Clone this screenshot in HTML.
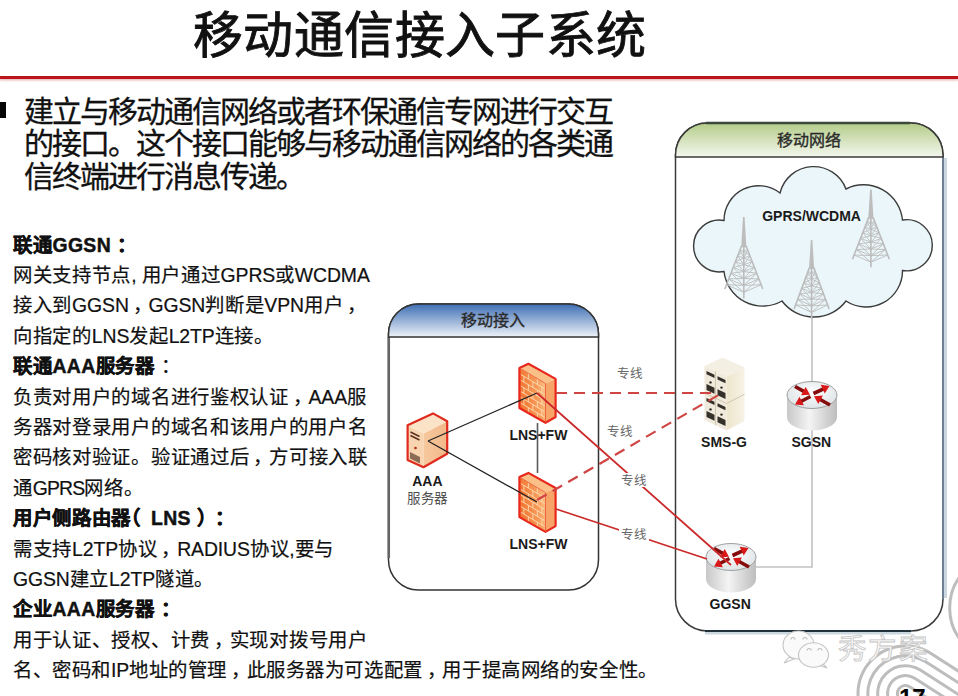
<!DOCTYPE html>
<html lang="zh-CN">
<head>
<meta charset="utf-8">
<style>
html,body{margin:0;padding:0;background:#fff;}
body{width:958px;height:696px;position:relative;overflow:hidden;font-family:"Liberation Sans",sans-serif;color:#111;}
.a{position:absolute;white-space:nowrap;line-height:1;}
#title{left:193px;top:11px;font-size:50px;letter-spacing:0.4px;color:#111;-webkit-text-stroke:0.9px #111;}
#rule{position:absolute;left:0;top:75.6px;width:958px;height:3px;background:#bb1419;box-shadow:0 1.5px 2px rgba(200,80,80,.4);}
#bul{position:absolute;left:-10px;top:102px;width:16px;height:15.6px;background:#050505;}
.b{font-size:30px;letter-spacing:-2px;left:24px;color:#111;-webkit-text-stroke:0.3px #111;}
.t{font-size:19.4px;letter-spacing:0.7px;left:13px;color:#111;-webkit-text-stroke:0.2px #111;}
.t b{font-weight:bold;-webkit-text-stroke:0.45px #111;}
.l{letter-spacing:-0.1px;}
.t b .l{letter-spacing:0.4px;}
.p{position:relative;}
svg{position:absolute;left:0;top:0;}
</style>
</head>
<body>
<div class="a" id="title">移动通信接入子系统</div>
<div id="rule"></div>
<div id="bul"></div>
<div class="a b" style="top:97px">建立与移动通信网络或者环保通信专网进行交互</div>
<div class="a b" style="top:129px">的接口。这个接口能够与移动通信网络的各类通</div>
<div class="a b" style="top:162px">信终端进行消息传递。</div>

<div class="a t" style="top:235.6px"><b>联通<span class="l">GGSN</span><span class="p" style="left:6.0px">：</span></b></div>
<div class="a t" style="top:266.0px">网关支持节点<span class="l">, </span>用户通过<span class="l">GPRS</span>或<span class="l">WCDMA</span></div>
<div class="a t" style="top:296.4px">接入到<span class="l">GGSN</span><span class="p" style="left:4px">，</span><span class="l">GGSN</span>判断是<span class="l">VPN</span>用户<span class="p" style="left:4px">，</span></div>
<div class="a t" style="top:326.7px">向指定的<span class="l">LNS</span>发起<span class="l">L2TP</span>连接。</div>
<div class="a t" style="top:357.1px"><b>联通<span class="l">AAA</span>服务器</b><span class="p" style="left:6.0px">：</span></div>
<div class="a t" style="top:387.5px">负责对用户的域名进行鉴权认证<span class="p" style="left:4px">，</span><span class="l">AAA</span>服</div>
<div class="a t" style="top:417.9px">务器对登录用户的域名和该用户的用户名</div>
<div class="a t" style="top:448.2px">密码核对验证。验证通过后<span class="p" style="left:4px">，</span>方可接入联</div>
<div class="a t" style="top:478.6px">通<span class="l" style="letter-spacing:-0.8px">GPRS</span>网络。</div>
<div class="a t" style="top:509.0px"><b>用户侧路由器<span class="p" style="left:-10.5px">（</span><span class="l">LNS</span><span class="p" style="left:6.5px">）</span><span class="p" style="left:14.5px">：</span></b></div>
<div class="a t" style="top:539.7px">需支持<span class="l">L2TP</span>协议<span class="p" style="left:4px">，</span><span class="l">RADIUS</span>协议<span class="l">,</span>要与</div>
<div class="a t" style="top:570.1px"><span class="l">GGSN</span>建立<span class="l">L2TP</span>隧道。</div>
<div class="a t" style="top:600.4px"><b>企业<span class="l">AAA</span>服务器<span class="p" style="left:6.0px">：</span></b></div>
<div class="a t" style="top:630.8px">用于认证、授权、计费<span class="p" style="left:4px">，</span>实现对拨号用户</div>
<div class="a t" style="top:661.2px;letter-spacing:0.58px">名、密码和<span class="l">IP</span>地址的管理<span class="p" style="left:4px">，</span>此服务器为可选配置<span class="p" style="left:4px">，</span>用于提高网络的安全性。</div>

<svg width="958" height="696" viewBox="0 0 958 696">
<defs>
<linearGradient id="gG" x1="0" y1="0" x2="0" y2="1"><stop offset="0" stop-color="#b3cc88"/><stop offset="1" stop-color="#f4f7ee"/></linearGradient>
<linearGradient id="gB" x1="0" y1="0" x2="0" y2="1"><stop offset="0" stop-color="#3e6fb4"/><stop offset="1" stop-color="#eef2f8"/></linearGradient>
<linearGradient id="fwF" x1="0" y1="0.2" x2="1" y2="0"><stop offset="0" stop-color="#f27632"/><stop offset="0.6" stop-color="#f79a58"/><stop offset="1" stop-color="#fbc88e"/></linearGradient>
<linearGradient id="aaS" x1="0" y1="0" x2="1" y2="0"><stop offset="0" stop-color="#f7c89e"/><stop offset="1" stop-color="#f2b888"/></linearGradient>
<linearGradient id="smS" x1="0" y1="0" x2="1" y2="0"><stop offset="0" stop-color="#ede6cc"/><stop offset="1" stop-color="#f6f2e6"/></linearGradient>
<linearGradient id="rtS" x1="0" y1="0" x2="1" y2="0"><stop offset="0" stop-color="#c8c8c8"/><stop offset="0.45" stop-color="#f4f4f4"/><stop offset="1" stop-color="#bdbdbd"/></linearGradient>
<radialGradient id="rtT" cx="0.5" cy="0.4" r="0.6"><stop offset="0" stop-color="#ffffff"/><stop offset="1" stop-color="#dde3e6"/></radialGradient>
</defs>
<!-- mobile network box -->
<path d="M945.5,158 V598 M911,633 H705" fill="none" stroke="#cbd7df" stroke-width="3"/>
<path d="M707.5,123 H911 A32,32 0 0 1 943,155 V599 A32,32 0 0 1 911,631 H707.5 A32,32 0 0 1 675.5,599 V155 A32,32 0 0 1 707.5,123 Z" fill="#fff" stroke="#3a3a3a" stroke-width="1.5"/>
<path d="M943,157 V599" fill="none" stroke="#6f8094" stroke-width="2"/><path d="M911,631 H705" fill="none" stroke="#22323c" stroke-width="1.8"/>
<path d="M707.5,123 H911 A32,32 0 0 1 943,155 V157 H675.5 V155 A32,32 0 0 1 707.5,123 Z" fill="url(#gG)" stroke="#3a3a3a" stroke-width="1.5"/>
<path d="M706,123 H910" stroke="#3a4a3a" stroke-width="2.5"/>
<!-- mobile access box -->
<path d="M418.5,304 H568.5 A30,30 0 0 1 598.5,334 V560 A30,30 0 0 1 568.5,590 H418.5 A30,30 0 0 1 388.5,560 V334 A30,30 0 0 1 418.5,304 Z" fill="#fff" stroke="#333" stroke-width="1.5"/>
<path d="M388.8,337 V558" stroke="#666" stroke-width="2.5"/>
<path d="M418.5,304 H568.5 A30,30 0 0 1 598.5,334 V337 H388.5 V334 A30,30 0 0 1 418.5,304 Z" fill="url(#gB)" stroke="#333" stroke-width="1.5"/>
<!-- cloud -->
<path d="M724.0,220.5 A34.7,34.7 0 0 1 780.0,193.0 A34.6,34.6 0 0 1 846.0,189.0 A39.1,39.1 0 0 1 902.5,220.0 A25.6,25.6 0 1 1 902.5,270.5 A36.4,36.4 0 0 1 846.0,301.0 A40.0,40.0 0 0 1 782.0,301.0 A39.0,39.0 0 0 1 724.0,271.5 A25.9,25.9 0 1 1 724.0,220.5 Z" fill="#eaf6f9" stroke="#3c3c3c" stroke-width="1.4"/>
<g stroke="#bcbcbc" fill="none"><path d="M743.0,217.0 L744.6,217.0 L746.4,247.2 L741.2,247.2 Z" fill="#bdbdbd" stroke="none"/><path d="M741.6,245.8 L724.8,289.0 M746.0,245.8 L762.8,289.0 M743.8,238.6 L743.8,298.4" stroke-width="1.6"/><path d="M739.9,250.1 L743.8,251.0 L747.7,250.1 M737.7,255.9 L743.8,257.9 L749.9,255.9 M735.4,261.6 L743.8,264.8 L752.2,261.6 M733.2,267.4 L743.8,271.6 L754.4,267.4 M731.0,273.2 L743.8,278.5 L756.6,273.2 M728.7,278.9 L743.8,285.4 L758.9,278.9 M726.5,284.7 L743.8,292.3 L761.1,284.7 M739.9,250.1 L743.8,257.9 M743.8,251.0 L737.7,255.9 M747.7,250.1 L743.8,257.9 M743.8,251.0 L749.9,255.9 M737.7,255.9 L743.8,264.8 M743.8,257.9 L735.4,261.6 M749.9,255.9 L743.8,264.8 M743.8,257.9 L752.2,261.6 M735.4,261.6 L743.8,271.6 M743.8,264.8 L733.2,267.4 M752.2,261.6 L743.8,271.6 M743.8,264.8 L754.4,267.4 M733.2,267.4 L743.8,278.5 M743.8,271.6 L731.0,273.2 M754.4,267.4 L743.8,278.5 M743.8,271.6 L756.6,273.2 M731.0,273.2 L743.8,285.4 M743.8,278.5 L728.7,278.9 M756.6,273.2 L743.8,285.4 M743.8,278.5 L758.9,278.9 M728.7,278.9 L743.8,292.3 M743.8,285.4 L726.5,284.7 M758.9,278.9 L743.8,292.3 M743.8,285.4 L761.1,284.7" stroke-width="0.9"/></g>
<g stroke="#bcbcbc" fill="none"><path d="M810.8,240.0 L812.4,240.0 L814.2,269.0 L809.0,269.0 Z" fill="#bdbdbd" stroke="none"/><path d="M809.4,267.6 L794.1,309.0 M813.8,267.6 L829.1,309.0 M811.6,260.7 L811.6,318.7" stroke-width="1.6"/><path d="M807.9,271.7 L811.6,272.6 L815.3,271.7 M805.8,277.3 L811.6,279.2 L817.4,277.3 M803.8,282.8 L811.6,285.9 L819.4,282.8 M801.8,288.3 L811.6,292.6 L821.5,288.3 M799.7,293.8 L811.6,299.2 L823.5,293.8 M797.7,299.3 L811.6,305.9 L825.5,299.3 M795.6,304.9 L811.6,312.5 L827.6,304.9 M807.9,271.7 L811.6,279.2 M811.6,272.6 L805.8,277.3 M815.3,271.7 L811.6,279.2 M811.6,272.6 L817.4,277.3 M805.8,277.3 L811.6,285.9 M811.6,279.2 L803.8,282.8 M817.4,277.3 L811.6,285.9 M811.6,279.2 L819.4,282.8 M803.8,282.8 L811.6,292.6 M811.6,285.9 L801.8,288.3 M819.4,282.8 L811.6,292.6 M811.6,285.9 L821.5,288.3 M801.8,288.3 L811.6,299.2 M811.6,292.6 L799.7,293.8 M821.5,288.3 L811.6,299.2 M811.6,292.6 L823.5,293.8 M799.7,293.8 L811.6,305.9 M811.6,299.2 L797.7,299.3 M823.5,293.8 L811.6,305.9 M811.6,299.2 L825.5,299.3 M797.7,299.3 L811.6,312.5 M811.6,305.9 L795.6,304.9 M825.5,299.3 L811.6,312.5 M811.6,305.9 L827.6,304.9" stroke-width="0.9"/></g>
<g stroke="#bcbcbc" fill="none"><path d="M870.1,189.6 L871.7,189.6 L873.5,218.8 L868.3,218.8 Z" fill="#bdbdbd" stroke="none"/><path d="M868.7,217.4 L852.5,259.2 M873.1,217.4 L889.3,259.2 M870.9,210.5 L870.9,267.3" stroke-width="1.6"/><path d="M867.1,221.6 L870.9,222.4 L874.7,221.6 M864.9,227.2 L870.9,229.1 L876.9,227.2 M862.8,232.8 L870.9,235.7 L879.0,232.8 M860.6,238.3 L870.9,242.3 L881.2,238.3 M858.4,243.9 L870.9,249.0 L883.4,243.9 M856.3,249.5 L870.9,255.6 L885.5,249.5 M854.1,255.0 L870.9,262.2 L887.7,255.0 M867.1,221.6 L870.9,229.1 M870.9,222.4 L864.9,227.2 M874.7,221.6 L870.9,229.1 M870.9,222.4 L876.9,227.2 M864.9,227.2 L870.9,235.7 M870.9,229.1 L862.8,232.8 M876.9,227.2 L870.9,235.7 M870.9,229.1 L879.0,232.8 M862.8,232.8 L870.9,242.3 M870.9,235.7 L860.6,238.3 M879.0,232.8 L870.9,242.3 M870.9,235.7 L881.2,238.3 M860.6,238.3 L870.9,249.0 M870.9,242.3 L858.4,243.9 M881.2,238.3 L870.9,249.0 M870.9,242.3 L883.4,243.9 M858.4,243.9 L870.9,255.6 M870.9,249.0 L856.3,249.5 M883.4,243.9 L870.9,255.6 M870.9,249.0 L885.5,249.5 M856.3,249.5 L870.9,262.2 M870.9,255.6 L854.1,255.0 M885.5,249.5 L870.9,262.2 M870.9,255.6 L887.7,255.0" stroke-width="0.9"/></g>
<!-- gray lines -->
<path d="M812,318 V567 H756" fill="none" stroke="#c2c2c2" stroke-width="1.6"/>
<!-- icons -->
<path d="M407.6,425.3 L423.5,433.5 L423.5,467.2 L407.6,460.1 Z" fill="#f8d4b0"/><path d="M423.5,433.5 L447.2,421.3 L447.2,453.8 L423.5,467.2 Z" fill="url(#aaS)"/><path d="M407.6,425.3 L433.0,413.4 L447.2,421.3 L423.5,433.5 Z" fill="#fbe3c8"/><path d="M410.5,432 L419.5,436.5 M410.5,435.5 L419.5,440" stroke="#5a3020" stroke-width="1.5"/><circle cx="415.5" cy="448" r="1.3" fill="#b03010"/><path d="M410,452 L420,457 L420,463.5 L410,458.5 Z" fill="#6a4a3a" opacity="0.75"/><path d="M407.6,425.3 L433.0,413.4 L447.2,421.3 L447.2,453.8 L423.5,467.2 L407.6,460.1 Z" fill="none" stroke="#e02a1e" stroke-width="2.2" stroke-linejoin="round"/><path d="M519.4,367.9 L545.5,383.5 L545.5,422.8 L519.4,408.0 Z" fill="url(#fwF)"/><path d="M545.5,383.5 L555.6,378.9 L555.6,417.0 L545.5,422.8 Z" fill="#f6a468"/><path d="M519.4,367.9 L528.4,363.8 L555.6,378.9 L545.5,383.5 Z" fill="#fbbf88"/><path d="M520.9,374.5 L544.5,388.6 M520.9,380.3 L544.5,394.4 M520.9,386.0 L544.5,400.1 M520.9,391.7 L544.5,405.8 M520.9,397.4 L544.5,411.5 M520.9,403.2 L544.5,417.3 M528.4,373.3 L528.4,379.0 M537.4,378.7 L537.4,384.4 M523.9,376.3 L523.9,382.0 M532.9,381.7 L532.9,387.4 M541.9,387.1 L541.9,392.8 M528.4,384.7 L528.4,390.5 M537.4,390.1 L537.4,395.8 M523.9,387.8 L523.9,393.5 M532.9,393.2 L532.9,398.9 M541.9,398.5 L541.9,404.3 M528.4,396.2 L528.4,401.9 M537.4,401.6 L537.4,407.3 M523.9,399.2 L523.9,405.0 M532.9,404.6 L532.9,410.3 M541.9,410.0 L541.9,415.7 M528.4,407.7 L528.4,413.4 M537.4,413.0 L537.4,418.8" stroke="#fde2bc" stroke-width="1" fill="none" opacity="0.85"/><path d="M519.4,367.9 L528.4,363.8 L555.6,378.9 L555.6,417.0 L545.5,422.8 L519.4,408.0 Z" fill="none" stroke="#e8281c" stroke-width="2.2" stroke-linejoin="round"/><path d="M519.4,367.9 L545.5,383.5 L545.5,422.8" fill="none" stroke="#e8502c" stroke-width="0.8"/><path d="M519.4,477.0 L545.5,492.6 L545.5,531.9 L519.4,517.1 Z" fill="url(#fwF)"/><path d="M545.5,492.6 L555.6,488.0 L555.6,526.1 L545.5,531.9 Z" fill="#f6a468"/><path d="M519.4,477.0 L528.4,472.9 L555.6,488.0 L545.5,492.6 Z" fill="#fbbf88"/><path d="M520.9,483.6 L544.5,497.7 M520.9,489.4 L544.5,503.5 M520.9,495.1 L544.5,509.2 M520.9,500.8 L544.5,514.9 M520.9,506.5 L544.5,520.6 M520.9,512.3 L544.5,526.4 M528.4,482.4 L528.4,488.1 M537.4,487.8 L537.4,493.5 M523.9,485.4 L523.9,491.1 M532.9,490.8 L532.9,496.5 M541.9,496.2 L541.9,501.9 M528.4,493.8 L528.4,499.6 M537.4,499.2 L537.4,504.9 M523.9,496.9 L523.9,502.6 M532.9,502.3 L532.9,508.0 M541.9,507.6 L541.9,513.4 M528.4,505.3 L528.4,511.0 M537.4,510.7 L537.4,516.4 M523.9,508.3 L523.9,514.1 M532.9,513.7 L532.9,519.4 M541.9,519.1 L541.9,524.8 M528.4,516.8 L528.4,522.5 M537.4,522.1 L537.4,527.9" stroke="#fde2bc" stroke-width="1" fill="none" opacity="0.85"/><path d="M519.4,477.0 L528.4,472.9 L555.6,488.0 L555.6,526.1 L545.5,531.9 L519.4,517.1 Z" fill="none" stroke="#e8281c" stroke-width="2.2" stroke-linejoin="round"/><path d="M519.4,477.0 L545.5,492.6 L545.5,531.9" fill="none" stroke="#e8502c" stroke-width="0.8"/><path d="M704.5,366 L722.5,357.5 L744.5,367.5 L726.5,376.5 Z" fill="#f3efe3"/><path d="M704.5,366 L726.5,376.5 L726.5,430.5 L704.5,420 Z" fill="#efeadb"/><path d="M726.5,376.5 L744.5,367.5 L744.5,421 L726.5,430.5 Z" fill="url(#smS)"/><path d="M715.5,371.2 L715.5,425.2 M704.5,393 L726.5,403.5 L744.5,394.2" stroke="#cfc8b0" stroke-width="1" fill="none"/><path d="M706.5,371.0 l8.0,3.8 l0,3.2 l-8.0,-3.8 Z M706.5,384.0 l8.0,3.8 l0,6.0 l-8.0,-3.8 Z M706.5,398.0 l8.0,3.8 l0,3.2 l-8.0,-3.8 Z M706.5,411.0 l8.0,3.8 l0,6.0 l-8.0,-3.8 Z M717.5,376.2 l8.0,3.8 l0,3.2 l-8.0,-3.8 Z M717.5,389.2 l8.0,3.8 l0,6.0 l-8.0,-3.8 Z M717.5,403.2 l8.0,3.8 l0,3.2 l-8.0,-3.8 Z M717.5,416.2 l8.0,3.8 l0,6.0 l-8.0,-3.8 Z" fill="#34302a"/><circle cx="710.5" cy="382.4" r="1.2" fill="#2e2a24"/><circle cx="710.5" cy="409.4" r="1.2" fill="#2e2a24"/><circle cx="721.5" cy="387.6" r="1.2" fill="#2e2a24"/><circle cx="721.5" cy="414.6" r="1.2" fill="#2e2a24"/><path d="M787.0,395.0 A25.0,13.5 0 0 0 837.0,395.0 V417.0 A25.0,13.5 0 0 1 787.0,417.0 Z" fill="url(#rtS)"/><ellipse cx="812.0" cy="395.0" rx="25.0" ry="13.5" fill="url(#rtT)" stroke="#8a8a8a" stroke-width="0.8"/><g class="arr"><line x1="795.0" y1="386.5" x2="804.3" y2="391.6" stroke="#850c0c" stroke-width="3.6"/><path d="M810.0,394.7 L801.1,395.3 L805.7,386.9 Z" fill="#d81818"/><line x1="830.0" y1="405.0" x2="819.7" y2="399.3" stroke="#850c0c" stroke-width="3.6"/><path d="M814.0,396.2 L822.9,395.6 L818.3,404.0 Z" fill="#d81818"/><line x1="813.5" y1="393.5" x2="823.6" y2="388.8" stroke="#850c0c" stroke-width="3.6"/><path d="M829.5,386.0 L824.7,393.5 L820.7,384.8 Z" fill="#d81818"/><line x1="810.5" y1="396.5" x2="800.8" y2="401.5" stroke="#850c0c" stroke-width="3.6"/><path d="M795.0,404.5 L799.5,396.8 L803.9,405.3 Z" fill="#d81818"/></g><path d="M706.0,557.0 A25.0,13.5 0 0 0 756.0,557.0 V579.0 A25.0,13.5 0 0 1 706.0,579.0 Z" fill="url(#rtS)"/><ellipse cx="731.0" cy="557.0" rx="25.0" ry="13.5" fill="url(#rtT)" stroke="#8a8a8a" stroke-width="0.8"/><g class="arr"><line x1="714.0" y1="548.5" x2="723.3" y2="553.6" stroke="#850c0c" stroke-width="3.6"/><path d="M729.0,556.7 L720.1,557.3 L724.7,548.9 Z" fill="#d81818"/><line x1="749.0" y1="567.0" x2="738.7" y2="561.3" stroke="#850c0c" stroke-width="3.6"/><path d="M733.0,558.2 L741.9,557.6 L737.3,566.0 Z" fill="#d81818"/><line x1="732.5" y1="555.5" x2="742.6" y2="550.8" stroke="#850c0c" stroke-width="3.6"/><path d="M748.5,548.0 L743.7,555.5 L739.7,546.8 Z" fill="#d81818"/><line x1="729.5" y1="558.5" x2="719.8" y2="563.5" stroke="#850c0c" stroke-width="3.6"/><path d="M714.0,566.5 L718.5,558.8 L722.9,567.3 Z" fill="#d81818"/></g>
<!-- lines -->
<path d="M537.5,423 V473" stroke="#5a5a5a" stroke-width="1.6"/>
<path d="M428,441 L537,393 M428,441 L537,502" stroke="#222" stroke-width="1.3" fill="none"/>
<path d="M556,393 H712" stroke="#d04444" stroke-width="2.2" stroke-dasharray="11,7" fill="none"/>
<path d="M537,500 L722,393" stroke="#d04444" stroke-width="2.2" stroke-dasharray="11,7" fill="none"/>
<path d="M537,393 L731,565 M556,509 L707,559" stroke="#cc2a2a" stroke-width="1.8" fill="none"/>

<g font-family="Liberation Sans, sans-serif" font-weight="bold" font-size="14" fill="#1a1a1a" text-anchor="middle">
<text x="811.6" y="221">GPRS/WCDMA</text>
<text x="538.4" y="439.6">LNS+FW</text>
<text x="538.5" y="549.3">LNS+FW</text>
<text x="427.4" y="486.3">AAA</text>
<text x="724" y="446.5">SMS-G</text>
<text x="811.3" y="447">SGSN</text>
<text x="730.2" y="609">GGSN</text>
</g>
<g font-family="Liberation Sans, sans-serif" font-size="16" fill="#2a2a2a" stroke="#2a2a2a" stroke-width="0.35" text-anchor="middle">
<text x="809.3" y="146">移动网络</text>
<text x="493.1" y="325.5">移动接入</text>
</g>
<text x="427.4" y="503" font-family="Liberation Sans, sans-serif" font-size="13.5" fill="#505050" letter-spacing="0.3" text-anchor="middle">服务器</text>
<g font-family="Liberation Serif, serif" font-size="12.5" fill="#666" text-anchor="middle">
<text x="630.3" y="377.5">专线</text>
<text x="620.1" y="436">专线</text>
<rect x="619" y="473" width="30" height="14" fill="#fff"/>
<text x="633.8" y="484.5">专线</text>
<rect x="619" y="527" width="30" height="14" fill="#fff"/>
<text x="633.8" y="538.5">专线</text>
</g>
<circle cx="1002.7" cy="607.9" r="53" fill="none" stroke="#bdbdbd" stroke-width="3"/><g fill="none" stroke-linecap="round"><path d="M905.4,693.4 L1157.8,855.5" stroke="#bdbdbd" stroke-width="97.8"/><path d="M905.4,693.4 L1157.8,855.5" stroke="#fff" stroke-width="91.8"/><path d="M905.4,693.4 L1157.8,855.5" stroke="#bdbdbd" stroke-width="78.1"/><path d="M905.4,693.4 L1157.8,855.5" stroke="#fff" stroke-width="72.1"/><path d="M905.4,693.4 L1157.8,855.5" stroke="#bdbdbd" stroke-width="58.4"/><path d="M905.4,693.4 L1157.8,855.5" stroke="#fff" stroke-width="52.4"/><path d="M905.4,693.4 L1157.8,855.5" stroke="#bdbdbd" stroke-width="38.6"/><path d="M905.4,693.4 L1157.8,855.5" stroke="#fff" stroke-width="32.6"/><path d="M905.4,693.4 L1157.8,855.5" stroke="#bdbdbd" stroke-width="18.9"/><path d="M905.4,693.4 L1157.8,855.5" stroke="#fff" stroke-width="12.9"/></g><g fill="#fafafa" stroke="#c4c4c4" stroke-width="1.1">
<path d="M789,657 L784,663 L794,659 Z"/>
<ellipse cx="798.5" cy="645" rx="15.5" ry="14"/>
<path d="M822,663 L827,668 L818,665 Z"/>
<ellipse cx="813.5" cy="655" rx="15" ry="12.3"/>
</g>
<g fill="none" stroke="#bdbdbd" stroke-width="1.2">
<path d="M791,639.5 a2,2 0 0 1 4,0 M803,639.5 a2,2 0 0 1 4,0 M807.2,650.5 a2,2 0 0 1 4,0 M817.8,650.5 a2,2 0 0 1 4,0"/>
</g>
<text x="837.5" y="658.5" font-family="Liberation Sans, sans-serif" font-size="28.5" letter-spacing="1.8" fill="#fbfbfb" stroke="#c4c4c4" stroke-width="0.8">秀方案</text>
<text x="899" y="705.5" font-family="Liberation Sans, sans-serif" font-weight="bold" font-size="24" fill="#000">17</text></svg>
</body>
</html>
